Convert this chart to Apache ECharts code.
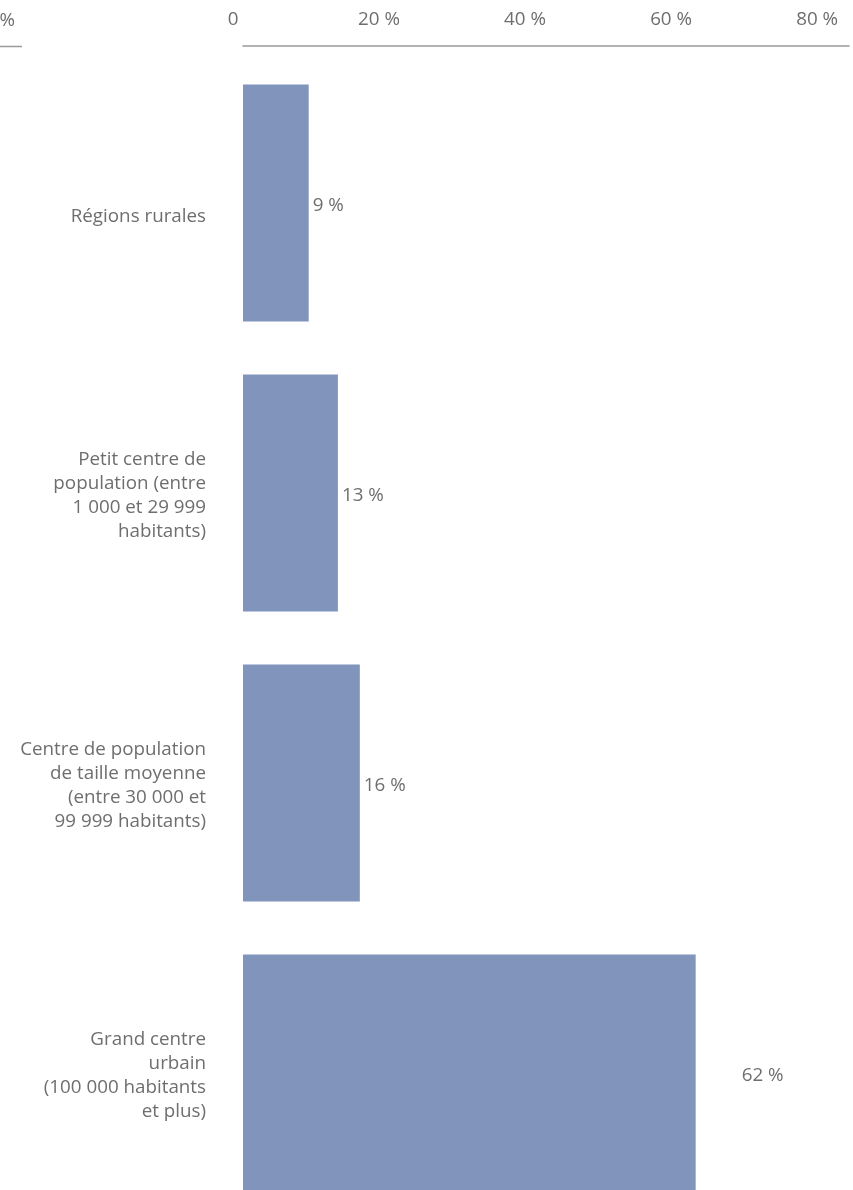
<!DOCTYPE html>
<html>
<head>
<meta charset="utf-8">
<script src="https://cdn.jsdelivr.net/npm/echarts@6/dist/echarts.min.js"></script>
<style>
  html, body { margin: 0; padding: 0; background: #ffffff; }
  #chart { width: 853px; height: 1190px; }
</style>
</head>
<body>
<div id="chart"></div>
<script>
// Categories (top to bottom) and their shares in percent
const categories = [
  'Régions rurales',
  'Petit centre de\npopulation (entre\n1 000 et 29 999\nhabitants)',
  'Centre de population\nde taille moyenne\n(entre 30 000 et\n99 999 habitants)',
  'Grand centre\nurbain\n(100 000 habitants\net plus)'
];
const shares = [9, 13, 16, 62];
const tickValues = [0, 20, 40, 60, 80];

const TEXT = '#6e6e6e';
const BAR = '#8094bc';
const FONT = '"Open Sans", "Noto Sans", sans-serif';
const FS = 18.8;

const chart = echarts.init(document.getElementById('chart'), null, { renderer: 'canvas' });

const option = {
  backgroundColor: '#ffffff',
  animation: false,
  textStyle: { fontFamily: FONT },
  // the last band runs past the bottom edge of the canvas
  grid: { left: 243, width: 606, top: 58, height: 1160, outerBoundsMode: 'none', containLabel: false },
  xAxis: {
    type: 'value',
    position: 'top',
    offset: 12,
    min: 0,
    max: 83,
    interval: 20,
    axisLine: { show: true, lineStyle: { color: '#9a9a9a', width: 1.5 } },
    axisTick: { show: false },
    splitLine: { show: false },
    axisLabel: {
      color: TEXT,
      fontFamily: FONT,
      fontSize: FS,
      lineHeight: 22,
      margin: 15,
      padding: [0, 20, 0, 0],
      showMaxLabel: false,
      formatter: v => (tickValues.indexOf(v) < 0 ? '' : (v === 0 ? '0' : v + ' %'))
    }
  },
  yAxis: {
    type: 'category',
    inverse: true,
    data: categories,
    axisLine: { show: false },
    axisTick: { show: false },
    splitLine: { show: false },
    axisLabel: {
      color: TEXT,
      fontFamily: FONT,
      fontSize: FS,
      lineHeight: 24,
      margin: 37,
      align: 'right',
      padding: [6, 0, 0, 0],
      // single-line label sits half a line below the band centre
      formatter: (v, i) => (i === 0 ? '{low|' + v + '}' : v),
      rich: {
        low: { padding: [22, 0, 0, 0], color: TEXT, fontFamily: FONT, fontSize: FS, lineHeight: 24 }
      }
    }
  },
  series: [{
    type: 'bar',
    data: shares.map((v, i) => ({
      value: v,
      label: { distance: i === shares.length - 1 ? 46 : 4 }
    })),
    barCategoryGap: '18.3%',
    itemStyle: { color: BAR },
    label: {
      show: true,
      position: 'right',
      offset: [0, 3],
      color: TEXT,
      fontFamily: FONT,
      fontSize: FS,
      formatter: p => p.value + ' %'
    }
  }],
  graphic: [
    {
      type: 'text',
      style: {
        x: 15, y: 21,
        text: '80 %',
        align: 'right',
        verticalAlign: 'middle',
        fill: TEXT,
        font: FS + 'px ' + FONT
      }
    },
    {
      type: 'line',
      shape: { x1: 0, y1: 46.5, x2: 22, y2: 46.5 },
      style: { stroke: '#9a9a9a', lineWidth: 1.5 }
    }
  ]
};

chart.setOption(option);
</script>
</body>
</html>
